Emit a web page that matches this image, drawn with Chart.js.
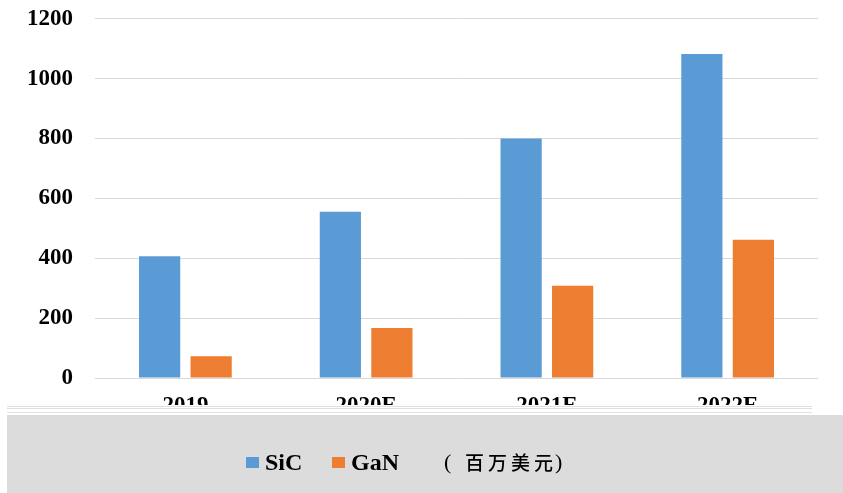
<!DOCTYPE html>
<html>
<head>
<meta charset="utf-8">
<script src="https://cdn.jsdelivr.net/npm/chart.js@4"></script>
<style>
  html, body { margin: 0; padding: 0; background: #fff; }
  #wrap { width: 843px; height: 493px; overflow: hidden; }
  #inner { width: 843px; height: 510px; margin-top: -17px; }
</style>
</head>
<body>
<div id="wrap"><div id="inner"><canvas id="bar"></canvas></div></div>
<script>
const years = ['2019', '2020E', '2021E', '2022E']
const sic = [407, 555, 800, 1082]
const gan = [73, 167, 308, 462]
const yTicks = [0, 200, 400, 600, 800, 1000, 1200]
const unitChars = ['百', '万', '美', '元']

const serif = '"Liberation Serif", "Times New Roman", serif'
const OFF = 17 // canvas is shifted up by this much

// grey legend panel that sits over the lower half of the year labels
const legendPanel = {
    id: 'legendPanel',
    afterDraw(chart) {
        const ctx = chart.ctx
        ctx.save()
        ctx.translate(0, OFF)
        ctx.fillStyle = '#fff'
        ctx.fillRect(0, 405, 843, 10)
        ctx.fillStyle = '#e0e0e0'
        ctx.fillRect(7, 406, 805, 1)
        ctx.fillRect(7, 408, 805, 1)
        ctx.fillRect(7, 412, 805, 1)
        ctx.fillStyle = '#dcdcdc'
        ctx.fillRect(7, 415, 836, 78)

        const ds = chart.data.datasets
        ctx.textBaseline = 'middle'
        ctx.font = 'bold 24px ' + serif
        const y = 463
        const boxX = [246, 332]
        ds.forEach((d, i) => {
            ctx.fillStyle = d.backgroundColor
            ctx.fillRect(boxX[i], y - 6, 13, 11)
            ctx.fillStyle = '#000'
            ctx.fillText(d.label, boxX[i] + 19, y + 1)
        })
        ctx.font = '22px ' + serif
        ctx.fillText('(', 444, y)
        ctx.fillText(')', 555, y)
        ctx.font = '500 19px "Noto Sans CJK SC"'
        unitChars.forEach((c, i) => ctx.fillText(c, 465 + i * 23, y))
        ctx.restore()
    }
}

const ctx = document.getElementById('bar').getContext('2d')
new Chart(ctx, {
    type: 'bar',
    data: {
        labels: years,
        datasets: [
            { label: 'SiC', data: sic, backgroundColor: '#5b9bd5' },
            { label: 'GaN', data: gan, backgroundColor: '#ed7d31' }
        ]
    },
    options: {
        responsive: true,
        maintainAspectRatio: false,
        animation: false,
        layout: { padding: { top: 0, right: 25, left: 0, bottom: 0 } },
        categoryPercentage: 0.57,
        barPercentage: 0.8,
        plugins: {
            legend: { display: false },
            tooltip: { enabled: false }
        },
        scales: {
            x: {
                grid: { display: false },
                border: { display: false },
                ticks: {
                    color: '#000',
                    padding: 6,
                    font: { family: serif, size: 23, weight: 'bold' }
                },
                afterFit(scale) { scale.height = 115 }
            },
            y: {
                min: 0,
                max: 1200,
                afterBuildTicks(scale) { scale.ticks = yTicks.map(v => ({ value: v })) },
                grid: { color: '#d9d9d9', lineWidth: 1, drawTicks: false },
                border: { display: false },
                ticks: {
                    color: '#000',
                    padding: 22,
                    callback: v => String(v),
                    font: { family: serif, size: 23, weight: 'bold' }
                },
                afterFit(scale) { scale.width = 95 }
            }
        }
    },
    plugins: [legendPanel]
})
</script>
</body>
</html>
